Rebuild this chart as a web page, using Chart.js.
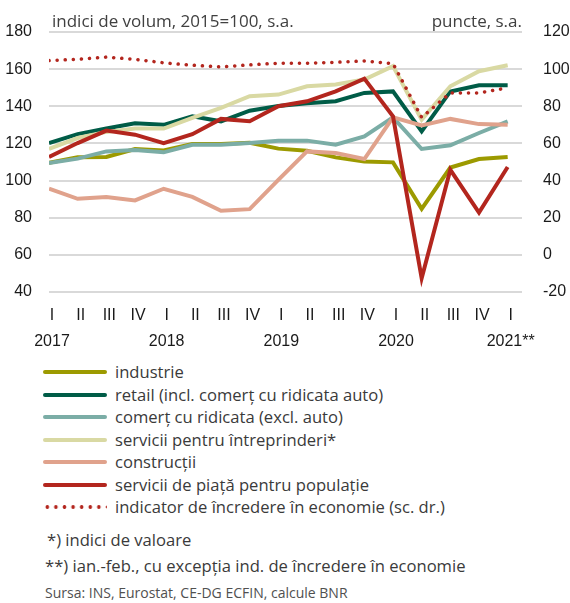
<!DOCTYPE html>
<html>
<head>
<meta charset="utf-8">
<script src="https://cdn.jsdelivr.net/npm/chart.js@4.4.1/dist/chart.umd.min.js"></script>
<style>
  body { margin: 0; background: #fff; }
  #wrap { position: relative; width: 570px; height: 603px; font-family: "Open Sans", sans-serif; color: #3a3a3a; }
  #chart { position: absolute; left: 0; top: 0; }
  #legend { position: absolute; left: 43px; top: 361px; }
  .row { height: 22.5px; line-height: 22.5px; font-size: 16.6px; white-space: nowrap; display: flex; align-items: center; }
  .swatch { width: 64px; height: 4px; margin-right: 8px; border-radius: 2px; }
  .note { position: absolute; left: 45px; font-size: 16.6px; white-space: nowrap; }
  .src { position: absolute; left: 45px; font-size: 14px; color: #505050; white-space: nowrap; }
</style>
</head>
<body>
<div id="wrap">
  <canvas id="chart" width="570" height="360"></canvas>
  <div id="legend"></div>
  <div class="note" style="top:528px;left:47px">*) indici de valoare</div>
  <div class="note" style="top:554px">**) ian.-feb., cu excepția ind. de încredere în economie</div>
  <div class="src" style="top:583px">Sursa: INS, Eurostat, CE-DG ECFIN, calcule BNR</div>
</div>
<script>
// trimestre 2017 I - 2021 I
const quarters = ['I', 'II', 'III', 'IV', 'I', 'II', 'III', 'IV', 'I', 'II', 'III', 'IV', 'I', 'II', 'III', 'IV', 'I'];
const years = ['2017', '', '', '', '2018', '', '', '', '2019', '', '', '', '2020', '', '', '', '2021**'];

// indici de volum (scala stanga)
const industrie = [109.6, 112.5, 112.7, 117.0, 116.2, 119.7, 119.7, 120.4, 117.2, 116.0, 112.5, 110.3, 109.8, 84.8, 107.0, 111.6, 112.7];
const retail = [120.2, 125.0, 128.0, 130.8, 130.0, 134.6, 131.9, 137.6, 140.2, 141.6, 142.7, 147.2, 148.0, 126.5, 148.0, 151.3, 151.3];
const comertRidicata = [109.4, 111.8, 115.7, 116.4, 115.2, 119.3, 119.3, 120.2, 121.5, 121.5, 119.3, 123.8, 134.0, 117.0, 119.0, 125.6, 131.9];
const serviciiIntreprinderi = [117.0, 122.9, 126.2, 128.0, 128.0, 133.7, 139.1, 145.4, 146.3, 150.8, 151.7, 154.4, 161.6, 132.8, 150.8, 158.9, 162.1];
const constructii = [95.6, 90.2, 91.2, 89.3, 95.6, 91.2, 83.7, 84.6, 100.4, 115.7, 114.8, 111.6, 134.0, 129.7, 133.2, 130.4, 130.0];
const serviciiPopulatie = [112.7, 120.2, 126.9, 124.7, 120.2, 125.0, 133.2, 131.9, 140.0, 142.7, 148.0, 154.9, 134.6, 47.4, 105.8, 82.8, 107.3];
// indicator de incredere (scala dreapta, puncte)
const incredere = [104.6, 105.3, 106.5, 105.3, 103.4, 102.1, 101.2, 102.3, 103.2, 103.2, 103.7, 104.4, 103.0, 74.0, 87.2, 87.2, 89.9];

const labels = [
  'industrie',
  'retail (incl. comerț cu ridicata auto)',
  'comerț cu ridicata (excl. auto)',
  'servicii pentru întreprinderi*',
  'construcții',
  'servicii de piață pentru populație',
  'indicator de încredere în economie (sc. dr.)'
];
const colors = ['#9c9a00', '#005c47', '#7badA6', '#d9d9a3', '#e0a28c', '#b3261e', '#b3261e'];
const series = [industrie, retail, comertRidicata, serviciiIntreprinderi, constructii, serviciiPopulatie, incredere];

const pts = arr => arr.map((v, i) => ({ x: i, y: v }));

const datasets = series.map((s, i) => {
  const dotted = i === 6;
  return {
    label: labels[i],
    data: pts(s),
    yAxisID: dotted ? 'y1' : 'y',
    borderColor: colors[i],
    backgroundColor: colors[i],
    borderWidth: dotted ? 3.5 : 4,
    borderDash: dotted ? [0.1, 8] : [],
    borderCapStyle: dotted ? 'round' : 'butt',
    borderJoinStyle: 'miter',
    pointRadius: 0,
    tension: 0,
    fill: false,
    order: 10 - i
  };
});

const tickFont = { family: '"Liberation Sans", Arial, sans-serif', size: 16 };

// titlurile axelor, sus
const headerPlugin = {
  id: 'header',
  afterDraw(chart) {
    const ctx = chart.ctx;
    ctx.save();
    ctx.fillStyle = '#404040';
    ctx.font = '17px "Open Sans", sans-serif';
    ctx.textBaseline = 'alphabetic';
    ctx.textAlign = 'left';
    ctx.fillText('indici de volum, 2015=100, s.a.', 52, 27);
    ctx.textAlign = 'right';
    ctx.fillText('puncte, s.a.', 522, 27);
    ctx.restore();
  }
};

const chart = new Chart(document.getElementById('chart'), {
  type: 'line',
  data: { datasets: datasets },
  options: {
    responsive: false,
    animation: false,
    layout: { padding: { top: 32, left: 0, right: 0, bottom: 0 } },
    plugins: { legend: { display: false }, tooltip: { enabled: false } },
    scales: {
      x: {
        type: 'linear',
        min: 0,
        max: 16.5,
        afterFit: s => { s.height = 68; },
        grid: { display: false },
        border: { display: false },
        ticks: {
          stepSize: 1,
          autoSkip: false,
          includeBounds: false,
          maxRotation: 0,
          padding: 3,
          labelOffset: 3,
          color: '#1a1a1a',
          font: { ...tickFont, lineHeight: 1.6 },
          callback: v => {
            if (!Number.isInteger(v) || v > 16) return '';
            return years[v] ? [quarters[v], years[v]] : quarters[v];
          }
        }
      },
      y: {
        position: 'left',
        min: 40,
        max: 180,
        afterFit: s => { s.width = 49; },
        grid: { color: '#d9d9d9', lineWidth: 2, drawTicks: false },
        border: { display: false },
        ticks: { stepSize: 20, padding: 17, color: '#1a1a1a', font: tickFont }
      },
      y1: {
        position: 'right',
        min: -20,
        max: 120,
        afterFit: s => { s.width = 48; },
        grid: { display: false, drawTicks: false },
        border: { display: false },
        ticks: { stepSize: 20, padding: 21, color: '#1a1a1a', font: tickFont }
      }
    }
  },
  plugins: [headerPlugin]
});

// legenda HTML, construita din seturile de date
const legend = document.getElementById('legend');
chart.data.datasets.forEach((ds, i) => {
  const row = document.createElement('div');
  row.className = 'row';
  const sw = document.createElement('div');
  sw.className = 'swatch';
  if (i === 6) {
    sw.style.background = 'radial-gradient(circle, ' + ds.borderColor + ' 1.6px, transparent 2.1px) 0 0 / 8.6px 4px repeat-x';
  } else {
    sw.style.background = ds.borderColor;
  }
  const txt = document.createElement('span');
  txt.textContent = ds.label;
  row.appendChild(sw);
  row.appendChild(txt);
  legend.appendChild(row);
});
</script>
</body>
</html>
